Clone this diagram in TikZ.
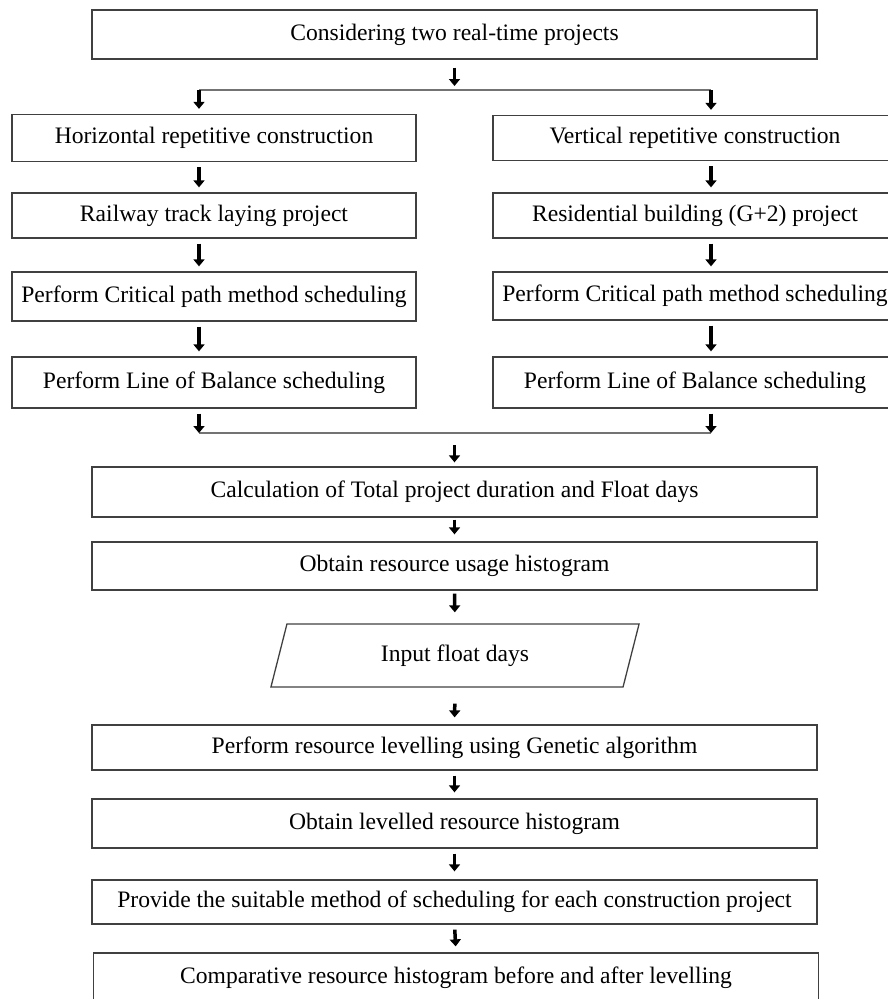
\documentclass[tikz,border=0pt]{standalone}
\usepackage{fontspec}
\setmainfont{Liberation Serif}
\usetikzlibrary{calc,arrows.meta,shapes.geometric}

\tikzset{
  box/.style={draw=black!75, line width=1.3pt, rectangle, minimum height=#1, inner sep=0pt, font=\fontsize{23.6}{27}\selectfont},
  box/.default=48pt,
  widebox/.style={box=#1, minimum width=725pt},
  widebox/.default=48pt,
  sidebox/.style={box=#1, minimum width=404pt},
  sidebox/.default=48pt,
  slantbox/.style={draw=black!75, line width=1.3pt, trapezium, trapezium left angle=72, trapezium right angle=108,
    trapezium stretches=true, minimum width=369pt, minimum height=63pt, inner sep=0pt, font=\fontsize{23.6}{27}\selectfont},
  arr/.style={line width=3.5pt, -{Triangle[length=7pt,width=11pt]}, shorten <=5pt, shorten >=5pt},
  link/.style={draw=black!55, line width=1.4pt}
}

\begin{document}
\begin{tikzpicture}[x=1pt,y=-1pt]
\useasboundingbox (0,0) rectangle (887,999);
\coordinate (o) at (454.5,0);
\coordinate (lcol) at (199,0);
\coordinate (rcol) at (711,0);

\node[widebox=49pt] (start) at ($ (o) + (0,34.5) $) {Considering two real-time projects};

% the two branches
\node[sidebox=47pt] (hrc) at (214,138) {Horizontal repetitive construction};
\node[sidebox=45pt] (rail) at (214,215.5) {Railway track laying project};
\node[sidebox=49pt] (cpmL) at (214,296.5) {Perform Critical path method scheduling};
\node[sidebox=51pt] (lobL) at (214,382.5) {Perform Line of Balance scheduling};

\node[sidebox=45pt] (vrc) at (695,138) {Vertical repetitive construction};
\node[sidebox=45pt] (res) at (695,215.5) {Residential building (G+2) project};
\node[sidebox=48pt] (cpmR) at (695,296) {Perform Critical path method scheduling};
\node[sidebox=51pt] (lobR) at (695,382.5) {Perform Line of Balance scheduling};

% split and merge lines
\coordinate (splitL) at (lcol |- 0,90);
\coordinate (splitR) at (rcol |- 0,90);
\coordinate (mergeL) at (lcol |- 0,433);
\coordinate (mergeR) at (rcol |- 0,433);

% main column
\node[widebox=50pt] (calc) at ($ (o) + (0,492) $) {Calculation of Total project duration and Float days};
\node[widebox=48pt] (usage) at ($ (o) + (0,566) $) {Obtain resource usage histogram};
\node[slantbox] (input) at ($ (o) + (0.5,655.5) $) {Input float days};
\node[widebox=45pt] (ga) at ($ (o) + (0,747.5) $) {Perform resource levelling using Genetic algorithm};
\node[widebox=49pt] (levelled) at ($ (o) + (0,823.5) $) {Obtain levelled resource histogram};
\node[widebox=44pt] (suit) at ($ (o) + (0,902) $) {Provide the suitable method of scheduling for each construction project};
\node[widebox=50pt] (compare) at ($ (o) + (1.5,978) $) {Comparative resource histogram before and after levelling};

\draw[link] (splitL) -- (splitR);
\draw[link] (mergeL) -- (mergeR);

\draw[arr, shorten <=8pt, shorten >=4pt] (start.south) -- (start.south |- splitL);
\draw[arr, shorten <=0pt] (splitL) -- (hrc.north -| splitL);
\draw[arr, shorten <=0pt] (splitR) -- (vrc.north -| splitR);

\draw[arr] (hrc.south -| lcol) -- (rail.north -| lcol);
\draw[arr] (rail.south -| lcol) -- (cpmL.north -| lcol);
\draw[arr] (cpmL.south -| lcol) -- (lobL.north -| lcol);
\draw[arr, shorten >=0pt] (lobL.south -| lcol) -- (mergeL);

\draw[arr] (vrc.south -| rcol) -- (res.north -| rcol);
\draw[arr] (res.south -| rcol) -- (cpmR.north -| rcol);
\draw[arr] (cpmR.south -| rcol) -- (lobR.north -| rcol);
\draw[arr, shorten >=0pt] (lobR.south -| rcol) -- (mergeR);

\draw[arr, shorten <=12pt, shorten >=4pt] (calc |- mergeL) -- (calc.north);
\draw[arr, shorten <=2pt, shorten >=7pt] (calc.south) -- (usage.north);
\draw[arr, shorten <=3pt, shorten >=11pt] (usage.south) -- (input.north);
\draw[arr, shorten <=16pt, shorten >=7pt] (input.south) -- (ga.north);
\draw[arr, shorten >=6pt] (ga.south) -- (levelled.north);
\draw[arr, shorten >=8pt] (levelled.south) -- (suit.north);
\draw[arr, shorten >=6pt] (suit.south) -- (compare.north);
\end{tikzpicture}
\end{document}
